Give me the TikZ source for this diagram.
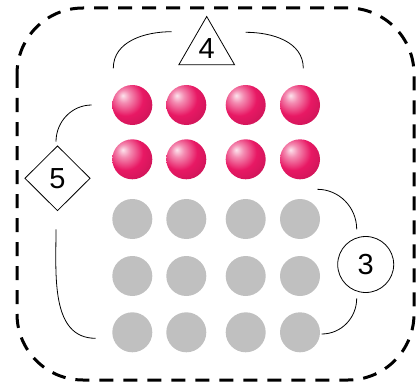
\documentclass[tikz,border=0pt]{standalone}
\usepackage{fontspec}
\setmainfont{Liberation Sans}
\usetikzlibrary{positioning}
\usetikzlibrary{shapes.geometric}
\definecolor{berry}{RGB}{232,24,100}
\definecolor{pebble}{RGB}{192,192,192}
\pgfdeclareradialshading{berryball}{\pgfpoint{-12bp}{12bp}}{%
  color(0bp)=(white!88!berry); color(8bp)=(berry!50!white);
  color(22bp)=(berry); color(40bp)=(berry!85!black);
  color(58bp)=(berry!55!black); color(75bp)=(berry!30!black)}

\tikzset{
  ballnode/.style={circle, inner sep=0pt, minimum size=40pt, shading=berryball},
  dotnode/.style={circle, inner sep=0pt, minimum size=40pt, fill=pebble},
  labelnode/.style={draw=black, line width=0.8pt, inner sep=0pt, font=\fontsize{29}{30}\selectfont},
  bracket/.style={black, line width=0.8pt},
}

\begin{document}
\begin{tikzpicture}[x=1pt, y=-1pt]
\useasboundingbox (0,0) rectangle (417,385);

% dashed outer frame
\draw[line width=3pt, dash pattern=on 14pt off 10pt, rounded corners=66pt] (17,8) rectangle (414,380);

% two rows of shaded balls, three rows of grey dots
\foreach \c/\x in {1/132.3, 2/186.3, 3/245.7, 4/300} {
    \foreach \r/\y in {1/105, 2/159.3} {
        \node[ballnode] (p-\r-\c) at (\x,\y) {};
    }
    \foreach \r/\y in {1/219, 2/276, 3/332.3} {
        \node[dotnode] (g-\r-\c) at (\x,\y) {};
    }
}

% Labels
\node[labelnode, regular polygon, regular polygon sides=3, minimum size=64.4pt] (four) at (206.7,48.7) {4};
\node[labelnode, diamond, minimum width=65.4pt, minimum height=65pt] (five) at (57.5,178.3) {5};
\node[labelnode, circle, minimum size=56pt] (three) at (365.7,264.5) {3};

% bracket ends
\coordinate (four-a) at (113.3,68.3);
\coordinate (four-b) at (171.7,31.7);
\coordinate (four-c) at (245.7,32.3);
\coordinate (four-d) at (303.3,68.3);
\coordinate (five-a) at (56,141.7);
\coordinate (five-b) at (91.7,105);
\coordinate (five-c) at (56,229.3);
\coordinate (five-d) at (95.7,338.3);
\coordinate (three-a) at (317.3,189.3);
\coordinate (three-b) at (356.7,229.3);
\coordinate (three-c) at (356.7,298.3);
\coordinate (three-d) at (321.7,334);

\draw[bracket] (four-a) to[out=90, in=180] (four-b);
\draw[bracket] (four-c) to[out=0, in=90] (four-d);
\draw[bracket] (five-a) to[out=90, in=180] (five-b);
\draw[bracket] (five-c) to[out=-90, in=180] (five-d);
\draw[bracket] (three-a) to[out=0, in=90] (three-b);
\draw[bracket] (three-c) to[out=-90, in=0] (three-d);
\end{tikzpicture}
\end{document}
